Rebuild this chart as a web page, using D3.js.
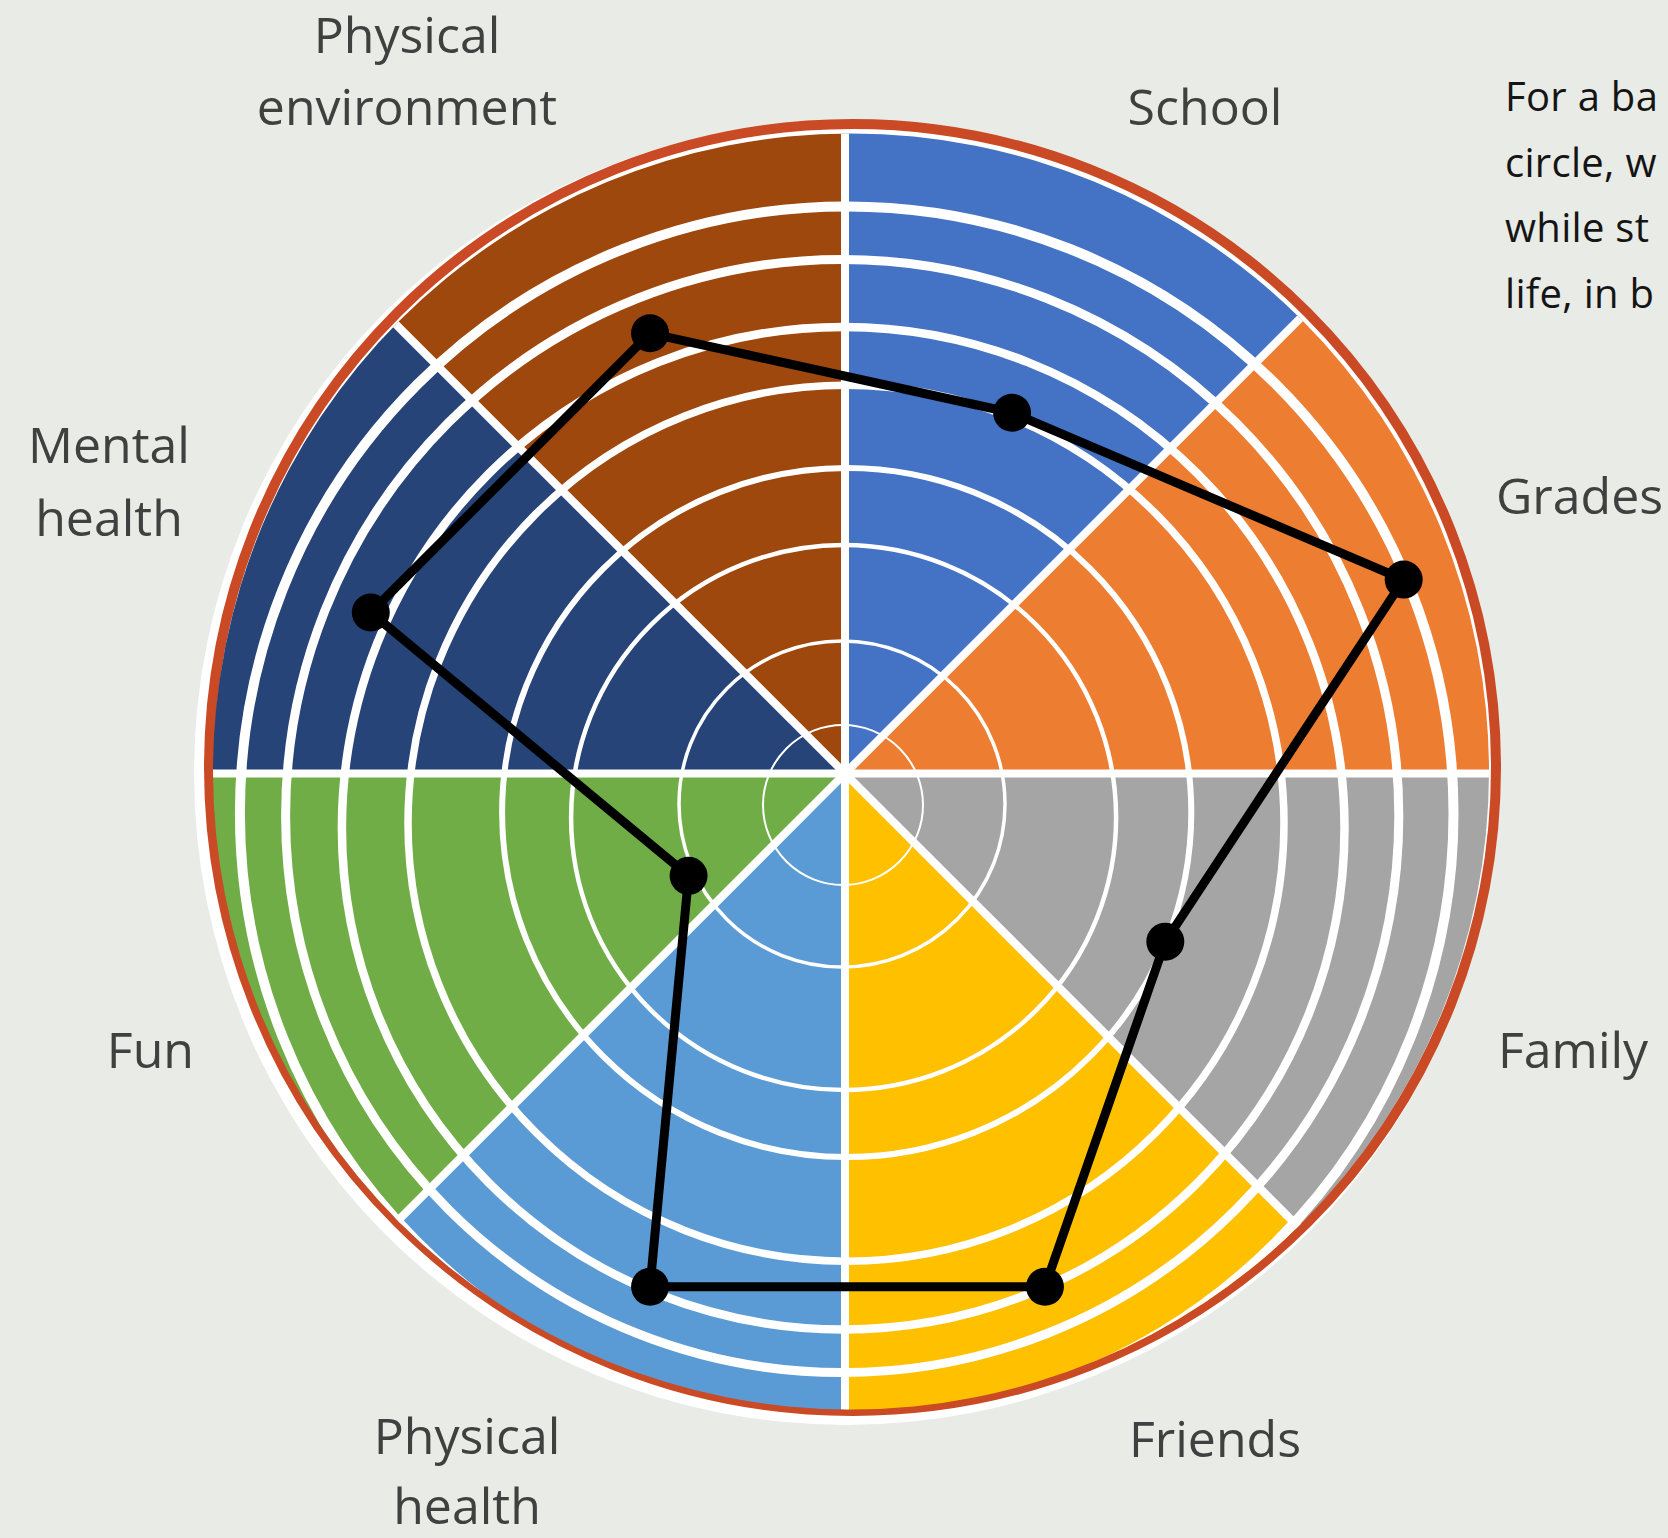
<!DOCTYPE html>
<html><head><meta charset="utf-8">
<script src="https://cdn.jsdelivr.net/npm/d3@7"></script>
<style>html,body{margin:0;padding:0;background:#E9EBE6;overflow:hidden}</style>
</head><body>
<svg id="chart" width="1668" height="1538"></svg>
<script>
// ---------- data ----------
const categories = ["School","Grades","Family","Friends","Physical health","Fun","Mental health","Physical environment"];
const scores = [5, 7, 4, 6, 6, 2, 6, 6];
const scaleMax = 7;
const sectorColors = ["#4472C4","#ED7D31","#A5A5A5","#FFC000","#5B9BD5","#70AD47","#264478","#9E480E"];
const labelLines = [["School"],["Grades"],["Family"],["Friends"],["Physical","health"],["Fun"],["Mental","health"],["Physical","environment"]];
const noteLines = ["For a ba","circle, w","while st","life, in b"];

// ---------- layout ----------
const W = 1668, H = 1538;
const wheel = {cx: 845, cy: 773.5, outer: 720, sepW: 8};
const clipDisk = {cx: 851, cy: 771.5, r: 638};
const backDisk = {cx: 846, cy: 773, r: 652};
const rim = {cx: 852.5, cy: 767.5, r: 643.5, w: 10, color: "#C94A24"};
const radar = {cx: 847.5, cy: 810, rMax: 602, lineW: 9, dotR: 19};
const ringLayout = [
  {cx: 843,   cy: 805,   r: 80,    w: 2},
  {cx: 842,   cy: 804,   r: 163,   w: 3.5},
  {cx: 843.6, cy: 817.5, r: 272.5, w: 4.5},
  {cx: 846.7, cy: 812.5, r: 344.6, w: 6},
  {cx: 846,   cy: 823.2, r: 438,   w: 7.5},
  {cx: 843.2, cy: 828.2, r: 501.3, w: 8.5},
  {cx: 842.2, cy: 816,   r: 556.6, w: 9},
  {cx: 846.7, cy: 813.2, r: 606.8, w: 10}
];
const labelLayout = [
  {x: 1205, y: 125,  anchor: "middle", lh: 72.5},
  {x: 1496, y: 514,  anchor: "start",  lh: 72.5},
  {x: 1498, y: 1068, anchor: "start",  lh: 72.5},
  {x: 1215, y: 1457, anchor: "middle", lh: 72.5},
  {x: 467,  y: 1454, anchor: "middle", lh: 70},
  {x: 194,  y: 1068, anchor: "end",    lh: 72.5},
  {x: 109,  y: 463,  anchor: "middle", lh: 73},
  {x: 407,  y: 53,   anchor: "middle", lh: 72}
];
const note = {x: 1505, y: 111, lineH: 65.7};

// ---------- drawing ----------
const svg = d3.select("#chart");
svg.append("rect").attr("width", W).attr("height", H).attr("fill", "#E9EBE6");

const defs = svg.append("defs");
defs.append("clipPath").attr("id", "wheelClip")
  .append("circle").attr("cx", clipDisk.cx).attr("cy", clipDisk.cy).attr("r", clipDisk.r);

// white backing disk and rim
svg.append("circle").attr("cx", backDisk.cx).attr("cy", backDisk.cy).attr("r", backDisk.r).attr("fill", "#fff");
svg.append("circle").attr("cx", rim.cx).attr("cy", rim.cy).attr("r", rim.r)
  .attr("fill", "none").attr("stroke", rim.color).attr("stroke-width", rim.w);

const g = svg.append("g").attr("clip-path", "url(#wheelClip)");

// sectors
const pie = d3.pie().value(1).sort(null);
const arc = d3.arc().innerRadius(0).outerRadius(wheel.outer);
g.append("g").attr("transform", `translate(${wheel.cx},${wheel.cy})`)
  .selectAll("path").data(pie(categories)).join("path")
  .attr("d", arc).attr("fill", (d, i) => sectorColors[i]);

// white rings
g.append("g").selectAll("circle").data(ringLayout).join("circle")
  .attr("cx", d => d.cx).attr("cy", d => d.cy).attr("r", d => d.r)
  .attr("fill", "none").attr("stroke", "#fff").attr("stroke-width", d => d.w);

// white separators between sectors
const angleStep = 2 * Math.PI / categories.length;
const sepAngles = d3.range(categories.length).map(i => i * angleStep);
g.append("g").attr("transform", `translate(${wheel.cx},${wheel.cy})`)
  .selectAll("line").data(sepAngles).join("line")
  .attr("x1", 0).attr("y1", 0)
  .attr("x2", a => wheel.outer * Math.sin(a))
  .attr("y2", a => -wheel.outer * Math.cos(a))
  .attr("stroke", "#fff").attr("stroke-width", wheel.sepW);

// radar line + markers
const rScale = d3.scaleLinear().domain([0, scaleMax]).range([0, radar.rMax]);
const angleOf = i => (i + 0.5) * angleStep;
const rg = svg.append("g").attr("transform", `translate(${radar.cx},${radar.cy})`);
const radial = d3.lineRadial().angle((d, i) => angleOf(i)).radius(d => rScale(d)).curve(d3.curveLinearClosed);
rg.append("path").attr("d", radial(scores))
  .attr("fill", "none").attr("stroke", "#000").attr("stroke-width", radar.lineW).attr("stroke-linejoin", "round");
rg.selectAll("circle").data(scores).join("circle")
  .attr("cx", (d, i) => rScale(d) * Math.sin(angleOf(i)))
  .attr("cy", (d, i) => -rScale(d) * Math.cos(angleOf(i)))
  .attr("r", radar.dotR).attr("fill", "#000");

// category labels
const lg = svg.append("g").attr("font-family", "'Open Sans','Noto Sans',sans-serif")
  .attr("font-size", 50).attr("fill", "#404040");
labelLines.forEach((lines, i) => {
  const L = labelLayout[i];
  const t = lg.append("text").attr("text-anchor", L.anchor);
  lines.forEach((s, j) => {
    t.append("tspan").attr("x", L.x).attr("y", L.y + j * L.lh).text(s);
  });
});

// side note
const ng = svg.append("g").attr("font-family", "'Open Sans','Lato',sans-serif")
  .attr("font-size", 40).attr("font-weight", 400).attr("letter-spacing", 0.3).attr("fill", "#151515");
noteLines.forEach((s, i) => {
  ng.append("text").attr("x", note.x).attr("y", note.y + i * note.lineH).text(s);
});
</script>
</body></html>
